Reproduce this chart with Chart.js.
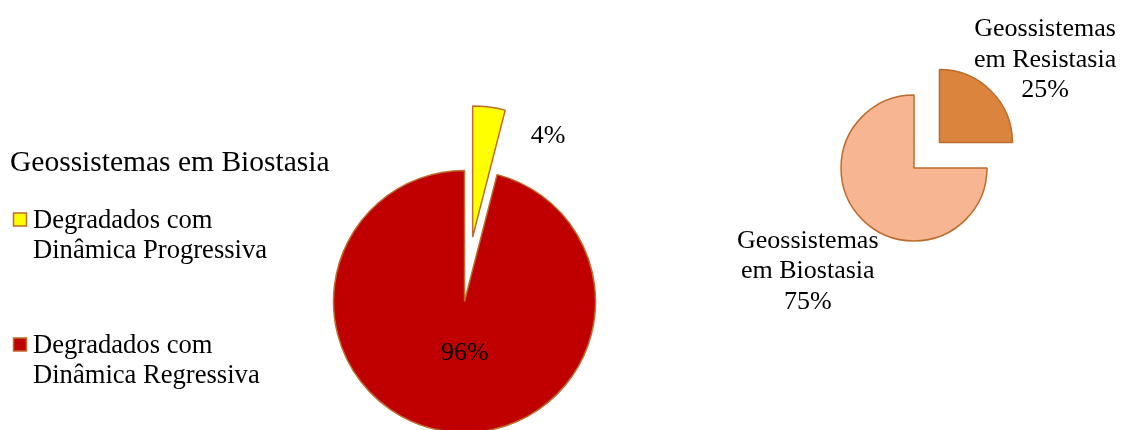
<!DOCTYPE html>
<html>
<head>
<meta charset="utf-8">
<script src="https://cdn.jsdelivr.net/npm/chart.js@4.4.0/dist/chart.umd.min.js"></script>
<style>
  html, body { margin: 0; padding: 0; background: #fff; overflow: hidden; }
  #wrap { position: relative; width: 1122px; height: 430px; }
  canvas { position: absolute; top: 0; }
  #cvDinamica { left: 0; }
  #cvEstado { left: 690px; }
</style>
</head>
<body>
<div id="wrap">
  <canvas id="cvDinamica" width="620" height="430"></canvas>
  <canvas id="cvEstado" width="432" height="430"></canvas>
</div>
<script>
// geossistemas em biostasia - dinamica dos degradados (%)
var dinamicaTitulo = 'Geossistemas em Biostasia';
var dinamicaLabels = [['Degradados com', 'Dinâmica Progressiva'], ['Degradados com', 'Dinâmica Regressiva']];
var dinamicaValores = [4, 96];
var dinamicaCores = ['#FFFF00', '#C00000'];

// estado dos geossistemas (%)
var estadoLabels = [['Geossistemas', 'em Resistasia'], ['Geossistemas', 'em Biostasia']];
var estadoValores = [25, 75];
var estadoCores = ['#DB843D', '#F8B592'];

var fonte = '"Liberation Serif", "Times New Roman", serif';
var contorno = '#BC6C2C';

// afasta as fatias destacadas do centro
var destaque = {
  id: 'destaque',
  afterDatasetUpdate: function (chart, args, opts) {
    var dist = opts.dist || [];
    args.meta.data.forEach(function (arc, i) {
      if (!dist[i]) return;
      var mid = (arc.startAngle + arc.endAngle) / 2;
      arc.x += Math.cos(mid) * dist[i];
      arc.y += Math.sin(mid) * dist[i];
    });
  }
};

// rotulos de porcentagem (e nome da categoria quando pedido)
var rotulos = {
  id: 'rotulos',
  afterDatasetsDraw: function (chart, args, opts) {
    var ctx = chart.ctx;
    var ds = chart.data.datasets[0];
    var total = ds.data.reduce(function (a, b) { return a + b; }, 0);
    var meta = chart.getDatasetMeta(0);
    ctx.save();
    ctx.fillStyle = '#000';
    ctx.font = opts.tamanho + 'px ' + fonte;
    ctx.textAlign = 'center';
    ctx.textBaseline = 'middle';
    meta.data.forEach(function (arc, i) {
      var it = opts.itens[i];
      var mid = (arc.startAngle + arc.endAngle) / 2;
      var ax = arc.x + Math.cos(mid) * arc.outerRadius * it.r + it.dx;
      var ay = arc.y + Math.sin(mid) * arc.outerRadius * it.r + it.dy;
      var linhas = opts.nomes ? chart.data.labels[i].slice() : [];
      linhas.push(Math.round(ds.data[i] / total * 100) + '%');
      var y0 = ay - (linhas.length - 1) * opts.entrelinha / 2;
      linhas.forEach(function (t, k) {
        ctx.fillText(t, ax, y0 + k * opts.entrelinha);
      });
    });
    ctx.restore();
  }
};

// legenda lateral com titulo
var legenda = {
  id: 'legenda',
  afterDraw: function (chart, args, opts) {
    var ctx = chart.ctx;
    var ds = chart.data.datasets[0];
    ctx.save();
    ctx.fillStyle = '#000';
    ctx.textAlign = 'left';
    ctx.textBaseline = 'alphabetic';
    ctx.font = opts.tamanhoTitulo + 'px ' + fonte;
    ctx.fillText(opts.titulo, opts.x, opts.yTitulo);
    ctx.font = opts.tamanho + 'px ' + fonte;
    chart.data.labels.forEach(function (lab, i) {
      var y = opts.yItens[i];
      ctx.fillStyle = ds.backgroundColor[i];
      ctx.fillRect(opts.x + 3.5, y - 15, 13, 13);
      ctx.strokeStyle = contorno;
      ctx.lineWidth = 1.5;
      ctx.strokeRect(opts.x + 3.5, y - 15, 13, 13);
      ctx.fillStyle = '#000';
      lab.forEach(function (t, k) {
        ctx.fillText(t, opts.x + 23, y + k * opts.entrelinha);
      });
    });
    ctx.restore();
  }
};

new Chart(document.getElementById('cvDinamica'), {
  type: 'pie',
  data: {
    labels: dinamicaLabels,
    datasets: [{
      data: dinamicaValores,
      backgroundColor: dinamicaCores,
      borderColor: contorno,
      borderWidth: 1.5,
      clip: false
    }]
  },
  options: {
    responsive: false,
    animation: false,
    radius: 131,
    layout: { padding: { left: 309, right: 0, top: 173, bottom: 0 } },
    events: [],
    plugins: {
      legend: { display: false },
      tooltip: { enabled: false },
      destaque: { dist: [65, 0] },
      rotulos: {
        tamanho: 26, entrelinha: 30, nomes: false,
        itens: [{ r: 1.0, dx: 59, dy: 29 }, { r: 0.4, dx: 7, dy: 0 }]
      },
      legenda: {
        titulo: dinamicaTitulo, x: 10, yTitulo: 171, tamanhoTitulo: 29.5,
        tamanho: 26.6, entrelinha: 30, yItens: [228, 353]
      }
    }
  },
  plugins: [destaque, rotulos, legenda]
});

new Chart(document.getElementById('cvEstado'), {
  type: 'pie',
  data: {
    labels: estadoLabels,
    datasets: [{
      data: estadoValores,
      backgroundColor: estadoCores,
      borderColor: contorno,
      borderWidth: 1.5,
      clip: false
    }]
  },
  options: {
    responsive: false,
    animation: false,
    radius: 73,
    layout: { padding: { left: 16, right: 0, top: 0, bottom: 94 } },
    events: [],
    plugins: {
      legend: { display: false },
      tooltip: { enabled: false },
      destaque: { dist: [36, 0] },
      rotulos: {
        tamanho: 26, entrelinha: 30.5, nomes: true,
        itens: [{ r: 1.6, dx: 23, dy: 0 }, { r: 2.0, dx: -3, dy: 0 }]
      }
    }
  },
  plugins: [destaque, rotulos]
});
</script>
</body>
</html>
